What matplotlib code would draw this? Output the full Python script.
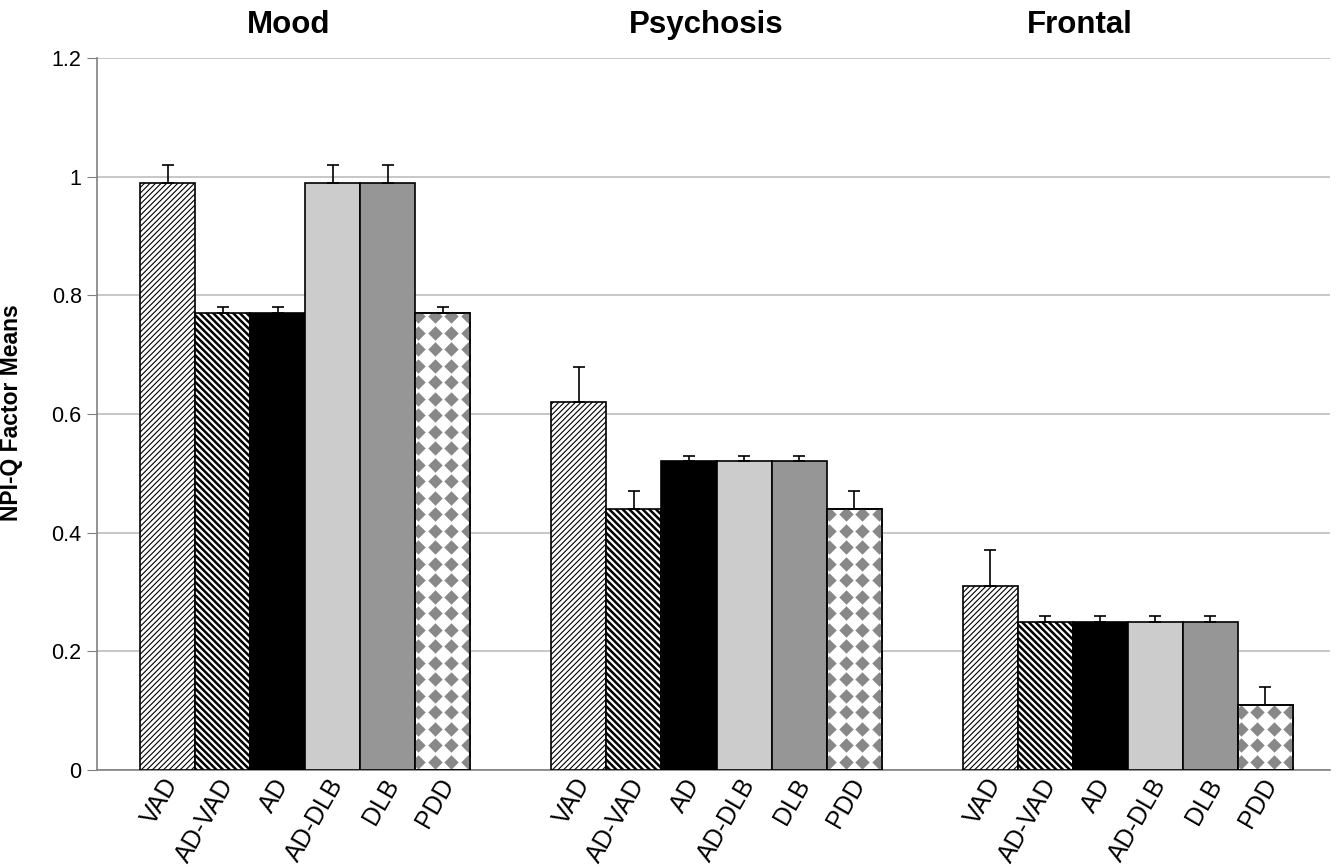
import numpy as np
import matplotlib
matplotlib.use("Agg")
import matplotlib.pyplot as plt
from matplotlib.transforms import ScaledTranslation

plt.rcParams['font.family'] = ['Liberation Sans', 'DejaVu Sans']
plt.rcParams['hatch.linewidth'] = 0.8

# data
factors = ["Mood", "Psychosis", "Frontal"]
groups = ["VAD", "AD-VAD", "AD", "AD-DLB", "DLB", "PDD"]
means = {
    "Mood":      [0.99, 0.77, 0.77, 0.99, 0.99, 0.77],
    "Psychosis": [0.62, 0.44, 0.52, 0.52, 0.52, 0.44],
    "Frontal":   [0.31, 0.25, 0.25, 0.25, 0.25, 0.11],
}
errs = {
    "Mood":      [0.03, 0.01, 0.01, 0.03, 0.03, 0.01],
    "Psychosis": [0.06, 0.03, 0.01, 0.01, 0.01, 0.03],
    "Frontal":   [0.06, 0.01, 0.01, 0.01, 0.01, 0.03],
}
yticks = [0, 0.2, 0.4, 0.6, 0.8, 1.0, 1.2]
ytick_labels = ["0", "0.2", "0.4", "0.6", "0.8", "1", "1.2"]

# styles per group
faces = ["white", "white", "black", "#cccccc", "#969696", "white"]
hatches = ["/" * 6, "\\" * 5, None, None, None, None]

fig = plt.figure(figsize=(13.42, 8.67), dpi=100)
ax = fig.add_axes([0.0723, 0.112, 0.9187, 0.821])

step = 7.47
xpos, xlabels = [], []
for g, f in enumerate(factors):
    x = g * step + np.arange(len(groups))
    for i in range(len(groups)):
        bar = ax.bar(x[i], means[f][i], width=1.0, color=faces[i], edgecolor="black",
                     linewidth=1.2, hatch=hatches[i], zorder=3)[0]
        if i == 1 and hasattr(bar, "set_hatch_linewidth"):
            bar.set_hatch_linewidth(1.8)
        if groups[i] == "PDD":
            # diamond texture clipped to the bar
            dx, dy = 0.3, 0.0278
            gx, gy = np.meshgrid(np.arange(x[i] - 0.5 + 0.05, x[i] + 0.5 + dx, dx),
                                 np.arange(dy / 2, means[f][i] + dy, dy))
            sc = ax.scatter(gx.ravel(), gy.ravel(), marker="D", s=54, color="#888888",
                            linewidths=0, zorder=3.5)
            sc.set_clip_path(bar)
            ax.bar(x[i], means[f][i], width=1.0, color="none", edgecolor="black",
                   linewidth=1.2, zorder=4)
    ax.errorbar(x, means[f], yerr=[np.zeros(6), errs[f]], fmt="none", ecolor="black",
                elinewidth=1.2, capsize=4.5, capthick=1.2, zorder=5)
    xpos.extend(x)
    xlabels.extend(groups)

ax.set_xlim(-1.28, 2 * step + 5.5 + 0.67)
ax.set_ylim(0, 1.2)
ax.set_yticks(yticks)
ax.set_yticklabels(ytick_labels, fontsize=15.5)
ax.set_xticks(xpos)
ax.set_xticklabels(xlabels, rotation=60, ha="right", rotation_mode="anchor", fontsize=18)
ax.tick_params(axis="x", length=0, pad=3)
shift = ScaledTranslation(-0.05, 0, fig.dpi_scale_trans)
for lab in ax.get_xticklabels():
    lab.set_transform(lab.get_transform() + shift)
ax.tick_params(axis="y", length=7, color="#808080", direction="out", pad=4)
ax.yaxis.grid(True, color="#bdbdbd", linewidth=1.2, zorder=0)
ax.set_axisbelow(True)
for s in ["top", "right"]:
    ax.spines[s].set_visible(False)
ax.spines["left"].set_color("#808080")
ax.spines["bottom"].set_color("#808080")
ax.spines["left"].set_linewidth(1.2)
ax.spines["bottom"].set_linewidth(1.2)

fig.text(12 / 1342, 1 - 413 / 867, "NPI-Q Factor Means", fontsize=16.5, fontweight="bold",
         rotation=90, ha="center", va="center")

title_x = [289, 706, 1080]
for f, tx in zip(factors, title_x):
    fig.text(tx / 1342, 1 - 25 / 867, f, fontsize=22.5, fontweight="bold", ha="center", va="center")

fig.savefig("out.png", dpi=100)
